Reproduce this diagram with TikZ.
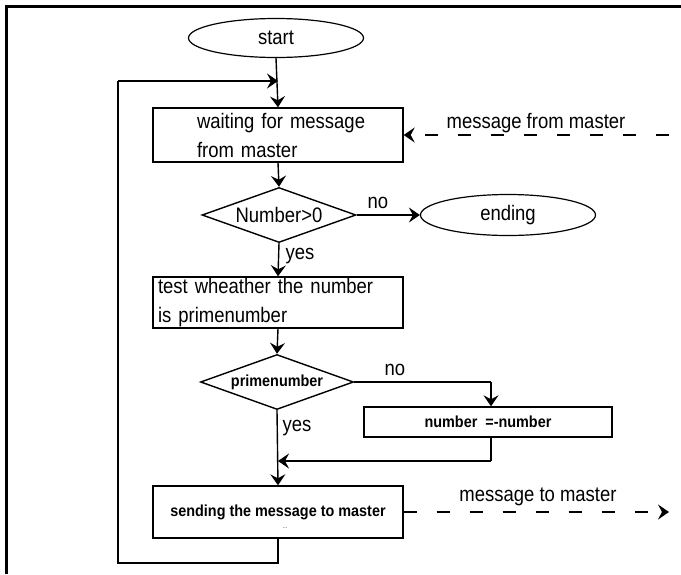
\documentclass[tikz,border=0pt]{standalone}
\usepackage{fontspec}
\setmainfont[FakeStretch=0.88]{Liberation Sans}
\newfontfamily\smallf[FakeStretch=0.9]{Liberation Sans}
\usetikzlibrary{shapes.geometric,arrows.meta}
\begin{document}
\begin{tikzpicture}[x=1pt,y=-1pt,
  every node/.style={font=\fontsize{21}{29}\selectfont},
  line/.style={line width=1.4pt},
  arr/.style={line width=1.4pt,-{Stealth[length=11pt,width=15pt,inset=4pt]}},
  darr/.style={arr,dash pattern=on 13pt off 20pt},
  procbox/.style={draw,line width=1.4pt,rectangle,inner sep=0pt,align=left},
  oval/.style={draw,line width=1.2pt,ellipse,inner sep=0pt},
  decide/.style={draw,line width=1.4pt,diamond,aspect=2.8,inner sep=0pt},
  sm/.style={font=\smallf\bfseries\fontsize{16}{20}\selectfont},
  lbl/.style={inner sep=0pt}
]
\useasboundingbox (0,0) rectangle (681,574);
\draw[line width=3pt] (6,574) -- (6,6) -- (681,6);

\node[oval,minimum width=175,minimum height=39] (start) at (276,38) {start};
\node[procbox,minimum width=250,minimum height=54,text width=242] (wait) at (278,135)
  {\hspace*{40pt}waiting for message\\\hspace*{40pt}from master};
\node[decide,minimum width=154,minimum height=55] (num) at (279,215) {Number\textgreater 0};
\node[oval,minimum width=175,minimum height=41] (ending) at (508,215) {ending};
\node[procbox,minimum width=250,minimum height=51,text width=240] (test) at (278,302.5)
  {test wheather the number\\is primenumber};
\node[decide,minimum width=153,minimum height=55,sm] (prime) at (277,382) {primenumber};
\node[procbox,minimum width=248,minimum height=30,sm,align=center] (neg) at (488,422) {number\ \ =-number};
\node[procbox,minimum width=250,minimum height=52,sm,align=center] (send) at (278,512) {sending the message to master};
\node[lbl,font=\fontsize{9}{9}\selectfont,text=black!60] (dots) at (285,528) {..};

\node[lbl] (no1) at (378,203) {no};
\node[lbl] (yes1) at (300,256) {yes};
\node[lbl] (no2) at (395,370) {no};
\node[lbl] (yes2) at (297,428) {yes};
\node[lbl] (mfm) at (536,123) {message from master};
\node[lbl] (mtm) at (538,497) {message to master};

\coordinate (loopin) at (278,81);
\coordinate (bl) at (118,563);
\coordinate (tl) at (118,81);
\coordinate (bm) at (278,563);
\coordinate (pr) at (491,382);
\coordinate (join) at (278,461);
\coordinate (joinr) at (491,461);
\coordinate (inR) at (669,135);
\coordinate (outR) at (669,512);

\draw[arr] (start.south) -- (wait.north);
\draw[arr] (wait.south) -- (num.north);
\draw[arr] (num.east) -- (ending.west);
\draw[arr] (num.south) -- (test.north);
\draw[arr] (test.south) -- (prime.north);
\draw[line] (prime.east) -- (pr);
\draw[arr] (pr) -- (pr |- neg.north);
\draw[line] (pr |- neg.south) -- (joinr);
\draw[arr] (joinr) -- (join);
\draw[arr] (prime.south) -- (send.north);
\draw[line] (send.south) -- (bm) -- (bl) -- (tl);
\draw[arr] (tl) -- (loopin);
\draw[darr] (inR) -- (wait.east);
\draw[darr] (send.east) -- (outR);
\end{tikzpicture}
\end{document}
